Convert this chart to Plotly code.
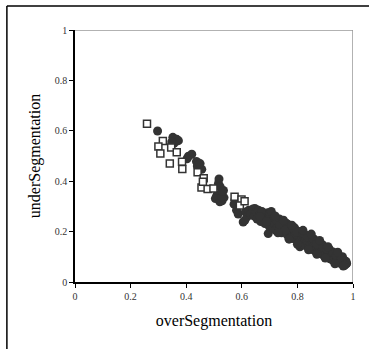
import plotly.graph_objects as go

# Series 1: filled circles
circle_x = [0.297, 0.352, 0.366, 0.356, 0.372, 0.348, 0.408, 0.420, 0.403, 0.437,
            0.440, 0.456, 0.450, 0.518, 0.516, 0.510, 0.524, 0.534, 0.505, 0.529,
            0.536, 0.522, 0.521, 0.527, 0.530, 0.572, 0.575, 0.581, 0.587, 0.605,
            0.613, 0.620, 0.611, 0.635, 0.647,
            0.625, 0.632, 0.640, 0.645, 0.652, 0.655, 0.660, 0.664, 0.668, 0.672,
            0.676, 0.680, 0.683, 0.686, 0.690, 0.694, 0.695, 0.698, 0.702, 0.705,
            0.708, 0.712, 0.715, 0.718, 0.722, 0.725, 0.728, 0.732, 0.736, 0.740,
            0.743, 0.747, 0.750, 0.754, 0.758, 0.761, 0.765, 0.768, 0.772, 0.775,
            0.779, 0.782, 0.786, 0.789, 0.792, 0.796, 0.800, 0.803, 0.806, 0.809,
            0.812, 0.815, 0.818, 0.822, 0.825, 0.829, 0.832, 0.836, 0.840, 0.843,
            0.847, 0.851, 0.854, 0.858, 0.862, 0.865, 0.869, 0.873, 0.876, 0.880,
            0.884, 0.887, 0.891, 0.895, 0.898, 0.902, 0.906, 0.909, 0.913, 0.917,
            0.920, 0.924, 0.928, 0.931, 0.935, 0.939, 0.942, 0.946, 0.950, 0.953,
            0.957, 0.961, 0.964, 0.968, 0.971, 0.975, 0.977,
            0.700, 0.735, 0.760, 0.790, 0.810, 0.835, 0.860, 0.890, 0.915, 0.940,
            0.962, 0.671, 0.701, 0.706, 0.665, 0.689, 0.725, 0.737, 0.761, 0.755,
            0.785, 0.797, 0.821, 0.838, 0.856, 0.869, 0.893, 0.905, 0.928, 0.940,
            0.958, 0.976, 0.970,
            0.720, 0.750, 0.780, 0.820, 0.850, 0.880, 0.910, 0.945,
            0.730, 0.770, 0.800, 0.840, 0.870, 0.900, 0.935, 0.965]
circle_y = [0.599, 0.574, 0.566, 0.550, 0.561, 0.556, 0.499, 0.507, 0.489, 0.478,
            0.460, 0.447, 0.470, 0.409, 0.391, 0.344, 0.350, 0.363, 0.331, 0.322,
            0.335, 0.378, 0.318, 0.338, 0.360, 0.309, 0.325, 0.285, 0.270, 0.238,
            0.278, 0.260, 0.245, 0.285, 0.292,
            0.285, 0.270, 0.290, 0.262, 0.278, 0.250, 0.285, 0.265, 0.240, 0.280,
            0.255, 0.270, 0.232, 0.262, 0.245, 0.275, 0.192, 0.222, 0.258, 0.270,
            0.238, 0.215, 0.250, 0.230, 0.205, 0.245, 0.222, 0.240, 0.210, 0.228,
            0.195, 0.232, 0.212, 0.198, 0.225, 0.205, 0.185, 0.218, 0.200, 0.180,
            0.208, 0.190, 0.172, 0.205, 0.185, 0.168, 0.198, 0.178, 0.158, 0.140,
            0.188, 0.170, 0.152, 0.180, 0.160, 0.145, 0.172, 0.155, 0.138, 0.165,
            0.148, 0.130, 0.160, 0.140, 0.125, 0.155, 0.135, 0.118, 0.145, 0.128,
            0.112, 0.138, 0.120, 0.105, 0.130, 0.112, 0.098, 0.125, 0.105, 0.092,
            0.118, 0.100, 0.085, 0.110, 0.095, 0.080, 0.102, 0.088, 0.075, 0.095,
            0.082, 0.072, 0.090, 0.078, 0.070, 0.082, 0.073,
            0.265, 0.250, 0.232, 0.215, 0.200, 0.185, 0.170, 0.148, 0.130, 0.112,
            0.100, 0.278, 0.272, 0.280, 0.260, 0.240, 0.245, 0.225, 0.232, 0.205,
            0.212, 0.198, 0.192, 0.179, 0.172, 0.152, 0.139, 0.132, 0.119, 0.106,
            0.093, 0.073, 0.066,
            0.262, 0.245, 0.225, 0.205, 0.190, 0.165, 0.140, 0.118,
            0.195, 0.170, 0.150, 0.128, 0.110, 0.095, 0.072, 0.063]

# Series 2: open squares
square_x = [0.259, 0.316, 0.300, 0.307, 0.341, 0.346, 0.366, 0.385, 0.386, 0.441,
            0.463, 0.455, 0.477, 0.498, 0.574, 0.599, 0.593, 0.610, 0.460]
square_y = [0.628, 0.560, 0.538, 0.510, 0.470, 0.534, 0.515, 0.477, 0.448, 0.436,
            0.412, 0.375, 0.369, 0.371, 0.338, 0.327, 0.304, 0.320, 0.398]

tick_vals = [0, 0.2, 0.4, 0.6, 0.8, 1]
tick_text = ["0", "0.2", "0.4", "0.6", "0.8", "1"]

fig = go.Figure()
fig.add_trace(go.Scatter(
    x=circle_x, y=circle_y, mode="markers", name="circles",
    marker=dict(symbol="circle", size=9, color="#333333", line=dict(width=0)),
))
fig.add_trace(go.Scatter(
    x=square_x, y=square_y, mode="markers", name="squares",
    marker=dict(symbol="square", size=7, color="white",
                line=dict(width=1.5, color="#333333")),
))

serif = "Liberation Serif"
axis_common = dict(
    range=[0, 1], tickvals=tick_vals, ticktext=tick_text,
    showgrid=False, zeroline=False, showline=True, linecolor="black",
    linewidth=1.5, ticks="outside", ticklen=4, tickcolor="black", tickwidth=1,
    tickfont=dict(family=serif, size=10, color="#333333"),
)
fig.update_xaxes(**axis_common,
                 title=dict(text="overSegmentation", standoff=14,
                            font=dict(family=serif, size=16, color="black")))
fig.update_yaxes(**axis_common,
                 title=dict(text="underSegmentation", standoff=10,
                            font=dict(family=serif, size=16, color="black")))

shapes = [
    # grey top and right plot borders
    dict(type="line", xref="x", yref="y", x0=0, x1=1, y0=1, y1=1,
         line=dict(color="#999999", width=1.5)),
    dict(type="line", xref="x", yref="y", x0=1, x1=1, y0=0, y1=1,
         line=dict(color="#999999", width=1.5)),
    # outer frame (top and left edges)
    dict(type="line", xref="paper", yref="paper", x0=-0.245, x1=1.2,
         y0=1.095, y1=1.095, line=dict(color="black", width=1.5)),
    dict(type="line", xref="paper", yref="paper", x0=-0.245, x1=-0.245,
         y0=-0.4, y1=1.095, line=dict(color="black", width=1.5)),
]

fig.update_layout(
    width=369, height=349,
    margin=dict(l=75, r=16, t=30, b=67),
    paper_bgcolor="white", plot_bgcolor="white",
    showlegend=False, shapes=shapes,
    font=dict(family=serif),
)

fig.write_html(
    "out.html",
    config={"displayModeBar": False},
    post_script="document.body.style.margin='0';document.body.style.overflow='hidden';",
)
